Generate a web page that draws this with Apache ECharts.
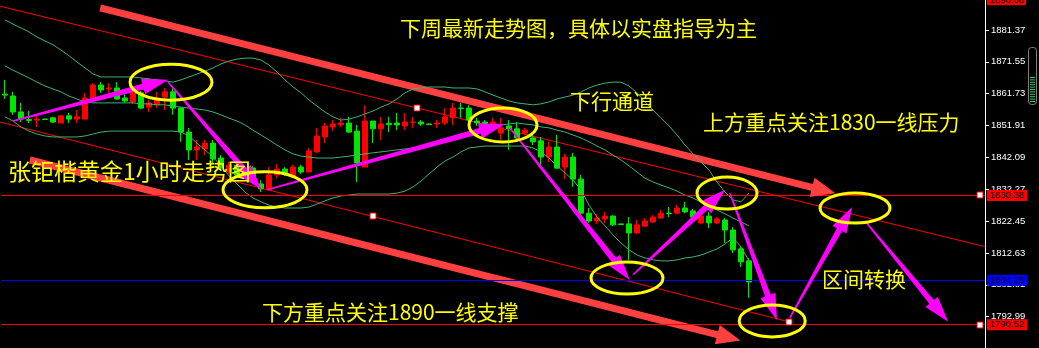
<!DOCTYPE html>
<html>
<head>
<meta charset="utf-8">
<script src="https://cdn.jsdelivr.net/npm/echarts@6/dist/echarts.min.js"></script>
<style>
  html, body { margin: 0; padding: 0; background: #000; }
  #chart { width: 1039px; height: 348px; }
</style>
</head>
<body>
<div id="chart"></div>
<script>
// Gold, 1-hour bars: [open, close, low, high]
const candles = [
  [1861.6,1861.3,1860.1,1866.0],[1861.0,1856.1,1855.2,1862.3],[1856.1,1853.9,1853.0,1858.9],[1853.8,1853.5,1852.7,1856.4],
  [1853.6,1853.9,1851.5,1854.9],[1853.9,1853.8,1853.6,1854.1],[1854.3,1853.0,1852.7,1854.6],[1852.7,1854.9,1852.7,1855.2],
  [1854.9,1853.9,1852.7,1855.8],[1853.9,1854.6,1852.7,1856.7],[1853.9,1860.4,1853.9,1862.0],[1860.4,1864.4,1860.1,1865.0],
  [1864.4,1862.9,1862.0,1865.3],[1863.2,1863.5,1862.0,1865.0],[1863.5,1860.1,1859.8,1865.3],[1860.4,1859.5,1858.9,1862.0],
  [1859.2,1862.0,1858.6,1862.9],[1862.0,1857.3,1857.0,1862.6],[1857.6,1858.9,1856.1,1859.8],[1858.3,1860.1,1857.3,1862.3],
  [1860.7,1862.3,1856.7,1863.5],[1862.3,1857.3,1855.2,1863.5],[1857.3,1849.9,1846.9,1857.6],[1849.9,1844.4,1841.3,1851.2],
  [1844.4,1845.3,1841.3,1847.5],[1844.7,1846.5,1842.8,1847.5],[1846.5,1841.6,1840.4,1847.5],[1841.9,1838.8,1838.2,1842.8],
  [1837.6,1839.7,1837.0,1840.7],[1839.7,1836.7,1836.1,1840.4],[1838.2,1836.4,1835.4,1838.8],[1838.8,1836.1,1835.8,1839.4],
  [1833.9,1832.4,1831.4,1835.1],[1832.1,1836.7,1832.1,1839.1],[1836.7,1838.5,1835.7,1840.1],[1838.5,1837.0,1836.4,1839.1],
  [1836.1,1839.1,1835.7,1839.8],[1839.1,1837.6,1837.0,1839.8],[1837.6,1844.1,1837.6,1845.0],[1843.8,1848.7,1843.5,1851.2],
  [1848.4,1851.8,1846.5,1852.7],[1851.5,1852.4,1850.2,1853.6],[1852.2,1852.7,1851.5,1854.3],[1852.7,1849.9,1849.6,1854.6],
  [1850.2,1840.4,1834.5,1852.1],[1839.1,1853.3,1839.1,1858.2],[1853.3,1850.9,1846.5,1853.3],[1850.9,1852.4,1847.5,1854.6],
  [1852.6,1852.2,1849.9,1854.6],[1852.7,1852.1,1850.5,1855.8],[1851.8,1853.0,1850.5,1855.8],[1852.9,1853.0,1851.2,1854.6],
  [1853.0,1852.4,1851.8,1853.6],[1852.4,1852.2,1852.1,1852.6],[1852.4,1852.7,1851.2,1853.6],[1852.7,1854.6,1852.1,1857.3],
  [1854.3,1857.3,1852.1,1858.9],[1857.3,1857.2,1854.3,1858.9],[1857.3,1853.6,1852.7,1858.2],[1853.3,1852.7,1851.8,1854.3],
  [1853.0,1852.1,1851.5,1853.6],[1851.5,1853.0,1850.5,1854.3],[1849.6,1851.2,1847.5,1854.3],[1851.8,1850.9,1844.4,1853.6],
  [1850.9,1848.1,1846.9,1853.0],[1849.6,1850.5,1849.0,1851.2],[1848.1,1846.9,1845.9,1849.0],[1847.2,1842.2,1839.7,1848.4],
  [1842.2,1845.3,1840.7,1846.9],[1845.3,1838.8,1838.5,1849.0],[1839.1,1842.2,1835.4,1843.2],[1842.2,1835.4,1833.0,1843.5],
  [1835.4,1824.9,1824.3,1836.7],[1824.9,1822.5,1821.9,1826.5],[1822.5,1823.4,1821.6,1824.6],[1823.1,1824.0,1821.9,1825.3],
  [1824.0,1821.3,1820.9,1824.3],[1821.6,1821.4,1821.3,1821.7],[1821.6,1818.8,1810.5,1823.7],[1818.8,1821.3,1818.5,1822.8],
  [1820.9,1822.5,1820.6,1823.4],[1822.2,1823.7,1821.9,1824.3],[1823.4,1824.9,1823.1,1825.9],[1824.9,1824.8,1823.7,1826.8],
  [1824.9,1826.5,1824.6,1827.4],[1826.5,1825.3,1824.9,1828.4],[1825.6,1823.7,1823.1,1826.2],[1821.9,1824.0,1821.6,1825.6],
  [1824.0,1821.9,1820.3,1825.3],[1821.9,1823.1,1821.6,1823.7],[1822.8,1819.7,1815.7,1823.4],[1819.7,1813.6,1812.6,1820.6],
  [1813.9,1809.9,1808.3,1814.8],[1810.2,1803.7,1798.8,1811.1]
];

// Bollinger bands, one value per bar
const upperBand = [
  1884.5,1883.2,1882.0,1880.8,1879.2,1878.0,1876.8,1875.2,1873.4,1871.5,
  1869.7,1867.8,1866.9,1866.9,1866.9,1866.9,1866.9,1866.6,1866.3,1866.0,
  1865.7,1865.3,1866.0,1866.9,1867.8,1868.7,1869.7,1870.9,1871.8,1872.4,
  1872.7,1872.7,1872.1,1870.6,1868.4,1866.0,1863.8,1862.0,1859.8,1857.9,
  1856.1,1854.6,1853.6,1853.9,1854.6,1855.5,1856.4,1857.6,1858.6,1860.1,
  1862.0,1863.2,1863.5,1863.8,1863.8,1863.8,1863.5,1863.5,1863.5,1863.2,
  1862.3,1861.3,1860.4,1859.5,1858.9,1858.6,1858.3,1858.6,1859.2,1860.1,
  1860.7,1861.3,1862.3,1863.5,1864.4,1865.0,1865.3,1865.3,1864.1,1862.0,
  1859.2,1856.7,1854.2,1851.8,1849.0,1845.9,1843.2,1840.7,1838.2,1834.5,
  1831.4,1829.0,1828.4,1831.1
];
const middleBand = [
  1870.3,1869.0,1867.8,1866.6,1865.3,1864.1,1863.2,1862.3,1861.0,1860.1,
  1859.2,1858.9,1858.9,1858.9,1858.9,1858.9,1858.9,1858.6,1858.6,1858.3,
  1858.3,1857.9,1857.6,1857.3,1857.0,1856.7,1856.1,1855.2,1854.2,1853.3,
  1852.1,1850.5,1849.0,1847.5,1845.9,1844.4,1843.2,1842.5,1842.2,1841.9,
  1841.9,1841.9,1842.2,1842.5,1842.8,1843.2,1843.5,1843.8,1844.1,1844.4,
  1844.7,1845.0,1845.3,1845.9,1846.9,1847.5,1848.1,1849.0,1849.6,1850.2,
  1851.2,1851.8,1852.1,1852.4,1852.7,1852.4,1852.1,1851.5,1851.2,1850.5,
  1849.9,1849.0,1848.1,1846.9,1845.6,1844.4,1842.8,1841.3,1839.5,1837.6,
  1835.7,1834.5,1833.6,1832.7,1831.7,1830.5,1829.6,1828.3,1827.1,1825.9,
  1824.7,1823.4,1822.2,1821.0
];
const lowerBand = [
  1854.6,1853.3,1851.5,1850.2,1849.3,1848.7,1848.4,1848.4,1848.4,1848.4,
  1848.7,1849.3,1849.9,1850.2,1850.2,1850.2,1850.2,1850.2,1850.2,1850.2,
  1850.2,1850.2,1849.9,1848.7,1846.5,1844.4,1842.2,1839.5,1836.4,1833.9,
  1831.4,1829.6,1828.4,1827.4,1826.8,1826.5,1826.5,1826.5,1826.8,1827.7,
  1828.7,1829.6,1830.2,1830.5,1830.8,1830.8,1830.8,1830.8,1830.8,1831.1,
  1831.7,1833.0,1834.8,1837.0,1839.1,1841.0,1842.2,1843.8,1845.0,1845.3,
  1845.6,1845.6,1845.6,1845.6,1845.6,1845.6,1845.0,1843.8,1841.9,1839.5,
  1837.3,1835.1,1832.1,1827.4,1823.7,1821.0,1818.2,1815.7,1813.6,1812.0,
  1811.1,1810.5,1810.2,1810.2,1810.5,1811.1,1811.4,1812.0,1812.9,1813.9,
  1815.4,1817.3,1814.5,1810.2
];

// Price scale
const priceTicks = [1792.99, 1802.81, 1812.63, 1822.45, 1832.27, 1842.09, 1851.91, 1861.73, 1871.55, 1881.37];
const priceMin = 1783.34;
const priceMax = 1890.62;
const slotCount = 123;           // bar slots across the window (right side left empty)
const lastQuote = 1890.56;

// Horizontal price levels
const levelPrices = [1830.38, 1804.25, 1790.52];
const levelColors = ['#ff0000', '#0000ff', '#ff0000'];

// Channel lines in [bar, price]
const channelUpperThin = [[-0.6, 1888.7], [122.5, 1814.6]];
const channelLowerThin = [[-0.6, 1853.0], [98.0, 1791.4]];
const channelUpperBold = [[11.9, 1888.2], [102.1, 1832.1]];
const channelLowerBold = [[3.1, 1841.3], [90.25, 1786.7]];
const anchorPoints = [[51.5, 1857.3], [46.0, 1824.0], [98.0, 1791.4]];

// Path arrows: [tail, tip] in [bar, price]
const pathArrows = [
  [[1.0, 1853.3], [20.4, 1866.0]],
  [[20.4, 1865.3], [32.1, 1832.1]],
  [[32.75, 1832.1], [62.5, 1852.4]],
  [[63.1, 1851.2], [78.1, 1804.3]],
  [[78.5, 1805.9], [90.0, 1832.1]],
  [[90.6, 1831.1], [96.5, 1792.0]],
  [[98.1, 1792.6], [105.9, 1826.8]],
  [[107.6, 1822.2], [117.9, 1791.4]]
];

// Rings around turning points: centre [bar, price]
const ringCentres = [
  [20.75, 1865.3], [32.5, 1832.1], [62.25, 1852.1], [77.75, 1804.9],
  [90.25, 1831.1], [95.9, 1791.7], [106.25, 1826.5]
];
const ringRadii = [[41, 18], [42, 18], [34, 17], [36, 16], [30, 16], [33, 16], [35, 15]];

// Commentary
const notes = [
  '下周最新走势图，具体以实盘指导为主',
  '下行通道',
  '上方重点关注1830一线压力',
  '张钜楷黄金1小时走势图',
  '下方重点关注1890一线支撑',
  '区间转换'
];

const UP = '#ff0000';
const DOWN = '#00e600';
const BAND = '#3cb371';
const LABEL_FONT = '"Liberation Sans", Arial, sans-serif';
const CJK_FONT = '"Noto Sans CJK SC", sans-serif';

const chart = echarts.init(document.getElementById('chart'), null, { renderer: 'canvas' });

const bandSeries = (data) => ({
  type: 'line',
  data: data.map((v, i) => [i, v]),
  showSymbol: false,
  silent: true,
  z: 3,
  lineStyle: { color: BAND, width: 1 },
  animation: false
});

const thinLine = (data, color, width) => ({
  type: 'line',
  data: data,
  showSymbol: false, silent: true, z: 1,
  lineStyle: { color: color, width: width }
});

const option = {
  backgroundColor: '#000',
  animation: false,
  grid: { left: 1, right: 54, top: 0, bottom: 0, containLabel: false },
  xAxis: {
    type: 'value', min: -0.5, max: slotCount - 0.5, show: false,
    axisLine: { onZero: false }
  },
  yAxis: {
    type: 'value', position: 'right', min: priceMin, max: priceMax,
    axisLine: { show: true, onZero: false, lineStyle: { color: '#ffffff', width: 1 } },
    axisTick: { show: true, inside: false, length: 4, lineStyle: { color: '#ffffff' }, customValues: priceTicks },
    axisLabel: {
      show: true, customValues: priceTicks, color: '#ffffff', fontSize: 9.5,
      fontFamily: LABEL_FONT, margin: 6, formatter: (v) => v.toFixed(2)
    },
    splitLine: { show: false }
  },
  series: [
    thinLine(channelUpperThin, '#ff0000', 1),
    thinLine(channelLowerThin, '#ff0000', 1),
    thinLine(channelUpperBold, '#ff4040', 7),
    thinLine(channelLowerBold, '#ff4040', 7),
    {
      type: 'candlestick',
      data: candles.map((c, i) => [i, c[0], c[1], c[2], c[3]]),
      barWidth: 6,
      z: 2,
      itemStyle: { color: UP, color0: DOWN, borderColor: UP, borderColor0: DOWN, borderWidth: 1 },
      markLine: {
        silent: true, symbol: 'none', animation: false,
        data: levelPrices.map((p, i) => ({
          yAxis: p,
          lineStyle: { color: levelColors[i], width: 1, type: 'solid' },
          label: {
            show: true, position: 'end', distance: 2,
            formatter: p.toFixed(2), color: '#000', backgroundColor: levelColors[i],
            fontSize: 9.5, fontFamily: LABEL_FONT, padding: [1, 3, 0, 3]
          }
        }))
      }
    },
    bandSeries(upperBand),
    bandSeries(middleBand),
    bandSeries(lowerBand)
  ]
};

chart.setOption(option);

// Annotation layer, positioned from chart coordinates
const px = (pt) => chart.convertToPixel({ gridIndex: 0 }, pt);

function arrowPoints(tail, tip, tailW, neckW, headW, headL) {
  const dx = tip[0] - tail[0], dy = tip[1] - tail[1];
  const len = Math.hypot(dx, dy);
  const ux = dx / len, uy = dy / len, nx = -uy, ny = ux;
  const nk = [tip[0] - ux * headL, tip[1] - uy * headL];
  return [
    [tail[0] + nx * tailW / 2, tail[1] + ny * tailW / 2],
    [nk[0] + nx * neckW / 2, nk[1] + ny * neckW / 2],
    [nk[0] + nx * headW / 2, nk[1] + ny * headW / 2],
    tip,
    [nk[0] - nx * headW / 2, nk[1] - ny * headW / 2],
    [nk[0] - nx * neckW / 2, nk[1] - ny * neckW / 2],
    [tail[0] - nx * tailW / 2, tail[1] - ny * tailW / 2]
  ];
}

const graphics = [];

// heads of the bold channel arrows
[channelUpperBold, channelLowerBold].forEach((ln) => {
  const a = px(ln[0]), b = px(ln[1]);
  const dx = b[0] - a[0], dy = b[1] - a[1], len = Math.hypot(dx, dy);
  const ext = [b[0] + dx / len * 14, b[1] + dy / len * 14];
  graphics.push({
    type: 'polygon', z: 10, silent: true,
    shape: { points: arrowPoints(b, ext, 7, 7, 20, 24).slice(1, 6) },
    style: { fill: '#ff4040' }
  });
});

pathArrows.forEach(([t, h]) => {
  graphics.push({
    type: 'polygon', z: 20, silent: true,
    shape: { points: arrowPoints(px(t), px(h), 1.5, 6, 16, 26) },
    style: { fill: '#ff00ff' }
  });
});

ringCentres.forEach((c, i) => {
  const p = px(c);
  graphics.push({
    type: 'ellipse', z: 30, silent: true,
    shape: { cx: p[0], cy: p[1], rx: ringRadii[i][0], ry: ringRadii[i][1] },
    style: { fill: 'none', stroke: '#ffff00', lineWidth: 3 }
  });
});

const square = (x, y) => ({
  type: 'rect', z: 35, silent: true,
  shape: { x: Math.round(x) - 3, y: Math.round(y) - 3, width: 6, height: 6 },
  style: { fill: '#ffffff', stroke: '#ff0000', lineWidth: 1 }
});
anchorPoints.forEach((a) => { const p = px(a); graphics.push(square(p[0], p[1])); });
[levelPrices[0], levelPrices[2]].forEach((v) => {
  const p = px([slotCount - 1, v]);
  graphics.push(square(p[0] - 1, p[1]));
});

// quote box at the top of the scale
const topY = px([0, lastQuote])[1];
graphics.push({
  type: 'rect', z: 40, silent: true,
  shape: { x: 987, y: topY - 6, width: 39, height: 11 },
  style: { fill: '#ff0000' }
});
graphics.push({
  type: 'text', z: 41, silent: true,
  style: { x: 990, y: topY, text: lastQuote.toFixed(2), fill: '#000', font: '9.5px ' + LABEL_FONT, verticalAlign: 'middle' }
});

// small scroll gauge at the far right
graphics.push({
  type: 'rect', z: 40, silent: true,
  shape: { x: 1028.5, y: 47.5, width: 8, height: 57, r: 3 },
  style: { fill: 'none', stroke: '#808080', lineWidth: 1 }
});
for (let i = 0; i < 11; i++) {
  graphics.push({
    type: 'line', z: 40, silent: true,
    shape: { x1: 1030, y1: 77.5 + i * 2.4, x2: 1035, y2: 77.5 + i * 2.4 },
    style: { stroke: '#33cc66', lineWidth: 1 }
  });
}

// commentary text
const notePlaces = [
  [400, 28, 21], [570, 101, 21], [703, 122, 21], [8, 171, 23], [262, 312, 21], [822, 279, 21]
];
notes.forEach((t, i) => {
  const [x, y, s] = notePlaces[i];
  graphics.push({
    type: 'text', z: 50, silent: true,
    style: { x: x, y: y, text: t, fill: '#ffff00', font: s + 'px ' + CJK_FONT, verticalAlign: 'middle' }
  });
});

chart.setOption({ graphic: { elements: graphics } });
</script>
</body>
</html>
